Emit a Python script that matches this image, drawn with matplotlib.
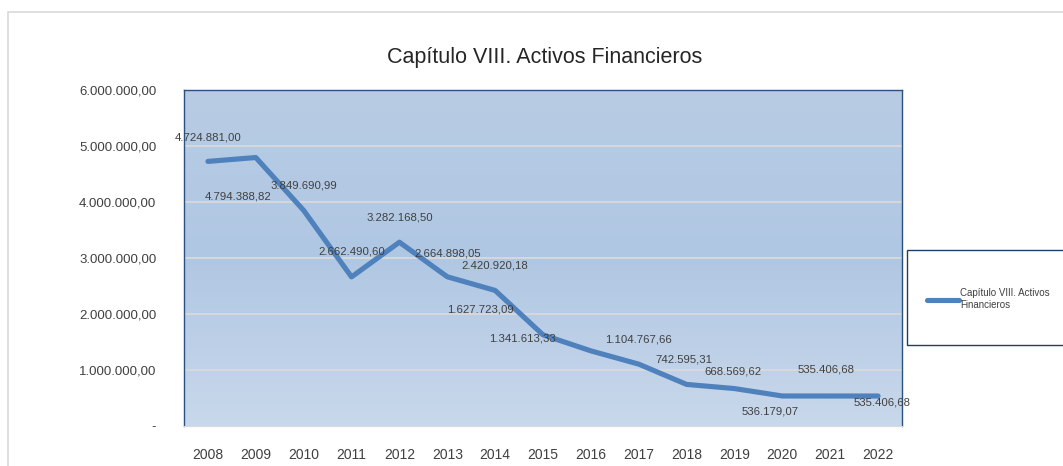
import numpy as np
import matplotlib.pyplot as plt
from matplotlib.patches import Rectangle
from matplotlib.colors import LinearSegmentedColormap

plt.rcParams['font.family'] = ['Liberation Sans', 'DejaVu Sans']

# datos
anios = ['2008', '2009', '2010', '2011', '2012', '2013', '2014', '2015',
         '2016', '2017', '2018', '2019', '2020', '2021', '2022']
valores = [4724881.00, 4794388.82, 3849690.99, 2662490.60, 3282168.50,
           2664898.05, 2420920.18, 1627723.09, 1341613.33, 1104767.66,
           742595.31, 668569.62, 536179.07, 535406.68, 535406.68]
serie = 'Capítulo VIII. Activos Financieros'
ticks_y = [0, 1000000, 2000000, 3000000, 4000000, 5000000, 6000000]
etiquetas_y = ['-', '1.000.000,00', '2.000.000,00', '3.000.000,00',
               '4.000.000,00', '5.000.000,00', '6.000.000,00']

# desplazamiento de las etiquetas (puntos)
desp = [(0, 17), (-13, -28), (0, 18), (0, 18), (0, 18), (0, 17), (0, 18),
        (-45, 18), (-49, 9), (0, 18), (-2, 18), (-1, 12), (-9, -11), (-3, 19),
        (3, -5)]


def formato(v):
    s = '{:,.2f}'.format(v)
    return s.replace(',', 'X').replace('.', ',').replace('X', '.')


def main():
    fig = plt.figure(figsize=(10.63, 4.66), dpi=100)
    fig.patches.append(Rectangle((8 / 1063, -0.1), 1.2, 1 - 12 / 466 + 0.1,
                                 transform=fig.transFigure, fill=False,
                                 edgecolor='#d9d9d9', linewidth=1.2))

    ax = fig.add_axes([184 / 1063, 40 / 466, 718 / 1063, 336 / 466])
    x = np.arange(len(anios))

    # fondo degradado
    grad = np.linspace(0, 1, 256).reshape(-1, 1)
    cmap = LinearSegmentedColormap.from_list('g', ['#c9d8eb', '#b0c7e3', '#b8cce4'])
    ax.imshow(grad, extent=[-0.5, len(anios) - 0.5, 0, 6000000],
              aspect='auto', cmap=cmap, origin='lower', zorder=0)

    for t in ticks_y[1:-1]:
        ax.axhline(t, color='#d9d9d9', linewidth=1.3, zorder=1)

    linea, = ax.plot(x, valores, color='#4f81bd', linewidth=3.7, zorder=3,
                     solid_capstyle='round', solid_joinstyle='round')

    for i, v in enumerate(valores):
        ax.annotate(formato(v), (x[i], v), xytext=desp[i],
                    textcoords='offset points', ha='center', va='center',
                    fontsize=8.2, color='#404040', zorder=4)

    ax.set_xlim(-0.5, len(anios) - 0.5)
    ax.set_ylim(0, 6000000)
    ax.set_xticks(x)
    ax.set_xticklabels(anios, fontsize=10, color='#404040')
    ax.set_yticks(ticks_y)
    ax.set_yticklabels(etiquetas_y, fontsize=9.5, color='#404040')
    ax.tick_params(length=0, axis='x', pad=16)
    ax.tick_params(length=0, axis='y', pad=20)
    for s in ['left', 'top', 'right']:
        ax.spines[s].set_color('#2c5080')
        ax.spines[s].set_linewidth(1.0)
    ax.spines['bottom'].set_color('#d9d9d9')

    fig.text(545 / 1063, 1 - 57 / 466, serie, ha='center', va='center',
             fontsize=15.5, color='#262626')

    # leyenda
    fig.patches.append(Rectangle((907 / 1063, 1 - 345 / 466), 0.2, 95 / 466,
                                 transform=fig.transFigure, fill=True,
                                 facecolor='white', edgecolor='#1f3d66',
                                 linewidth=1.0, zorder=5))
    leg = fig.legend(handles=[linea], labels=['Capítulo VIII. Activos\nFinancieros'],
                     loc='center left', bbox_to_anchor=(918 / 1063, 1 - 299 / 466),
                     frameon=False, fontsize=7, handlelength=3.3, handletextpad=0.15,
                     labelcolor='#404040')
    leg.set_zorder(6)

    fig.savefig('out.png', dpi=100)


if __name__ == '__main__':
    main()
